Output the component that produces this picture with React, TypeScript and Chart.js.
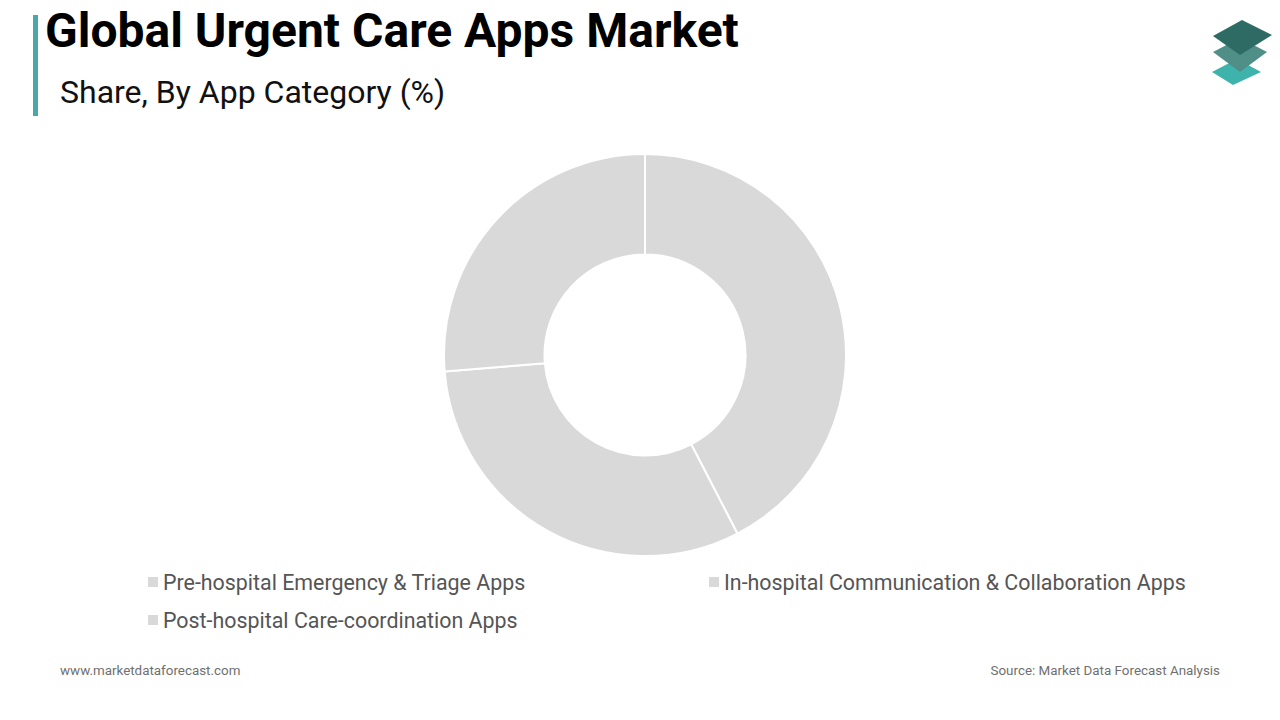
import React, { useEffect, useRef } from "react";
import { Chart, registerables } from "chart.js";

Chart.register(...registerables);

const TITLE = "Global Urgent Care Apps Market";
const SUBTITLE = "Share, By App Category (%)";
const categories = [
  "Pre-hospital Emergency & Triage Apps",
  "In-hospital Communication & Collaboration Apps",
  "Post-hospital Care-coordination Apps",
];
const shares = [42.4, 31.3, 26.3];
const sliceColors = ["#d9d9d9", "#d9d9d9", "#d9d9d9"];
const FOOTER_LEFT = "www.marketdataforecast.com";
const FOOTER_RIGHT = "Source: Market Data Forecast Analysis";

const Logo = () => (
  <svg width="80" height="80" viewBox="0 0 80 80" style={{ position: "absolute", left: 1200, top: 10 }}>
    <polygon points="12,62 37,49 61,62 33,75" fill="#3eb3ac" />
    <polygon points="13,42 40,28 67,42 40,62" fill="#4f8f88" />
    <polygon points="13,26 42,10 72,25 40,45" fill="#2e6b64" />
  </svg>
);

export default function App() {
  const canvasRef = useRef<HTMLCanvasElement | null>(null);

  useEffect(() => {
    document.body.style.margin = "0";
    const ctx = canvasRef.current;
    if (!ctx) return;
    const chart = new Chart(ctx, {
      type: "doughnut",
      data: {
        labels: categories,
        datasets: [
          {
            data: shares,
            backgroundColor: sliceColors,
            borderColor: "#ffffff",
            borderWidth: 2,
          },
        ],
      },
      options: {
        animation: false,
        responsive: true,
        maintainAspectRatio: false,
        cutout: "50%",
        plugins: {
          legend: { display: false },
          tooltip: { enabled: false },
        },
      },
    });
    return () => chart.destroy();
  }, []);

  const font = "Roboto, 'Noto Sans', sans-serif";

  return (
    <div style={{ position: "fixed", left: 0, top: 0, width: 1280, height: 720, background: "#fff", fontFamily: font, overflow: "hidden" }}>
      <div style={{ position: "absolute", left: 33, top: 15, width: 5, height: 101, background: "#4aa9a8" }} />
      <div style={{ position: "absolute", left: 45, top: 2, fontSize: 48, fontWeight: 700, color: "#000", whiteSpace: "nowrap", lineHeight: "58px" }}>
        {TITLE}
      </div>
      <div style={{ position: "absolute", left: 60, top: 71, fontSize: 32, fontWeight: 400, color: "#111", whiteSpace: "nowrap", lineHeight: "42px" }}>
        {SUBTITLE}
      </div>
      <Logo />
      <div style={{ position: "absolute", left: 443, top: 153, width: 404, height: 404 }}>
        <canvas ref={canvasRef} />
      </div>
      <div style={{ position: "absolute", left: 148, top: 568, width: 1100, display: "grid", gridTemplateColumns: "561px auto", rowGap: 10 }}>
        {categories.map((c, i) => (
          <div key={c} style={{ display: "flex", alignItems: "center", height: 28, whiteSpace: "nowrap" }}>
            <span style={{ display: "inline-block", width: 10, height: 10, background: sliceColors[i], marginRight: 5 }} />
            <span style={{ fontSize: 21.4, color: "#555555" }}>{c}</span>
          </div>
        ))}
      </div>
      <div style={{ position: "absolute", left: 60, top: 663, fontSize: 13.4, color: "#707070", whiteSpace: "nowrap" }}>{FOOTER_LEFT}</div>
      <div style={{ position: "absolute", right: 60, top: 663, fontSize: 13.4, color: "#707070", whiteSpace: "nowrap" }}>{FOOTER_RIGHT}</div>
    </div>
  );
}
